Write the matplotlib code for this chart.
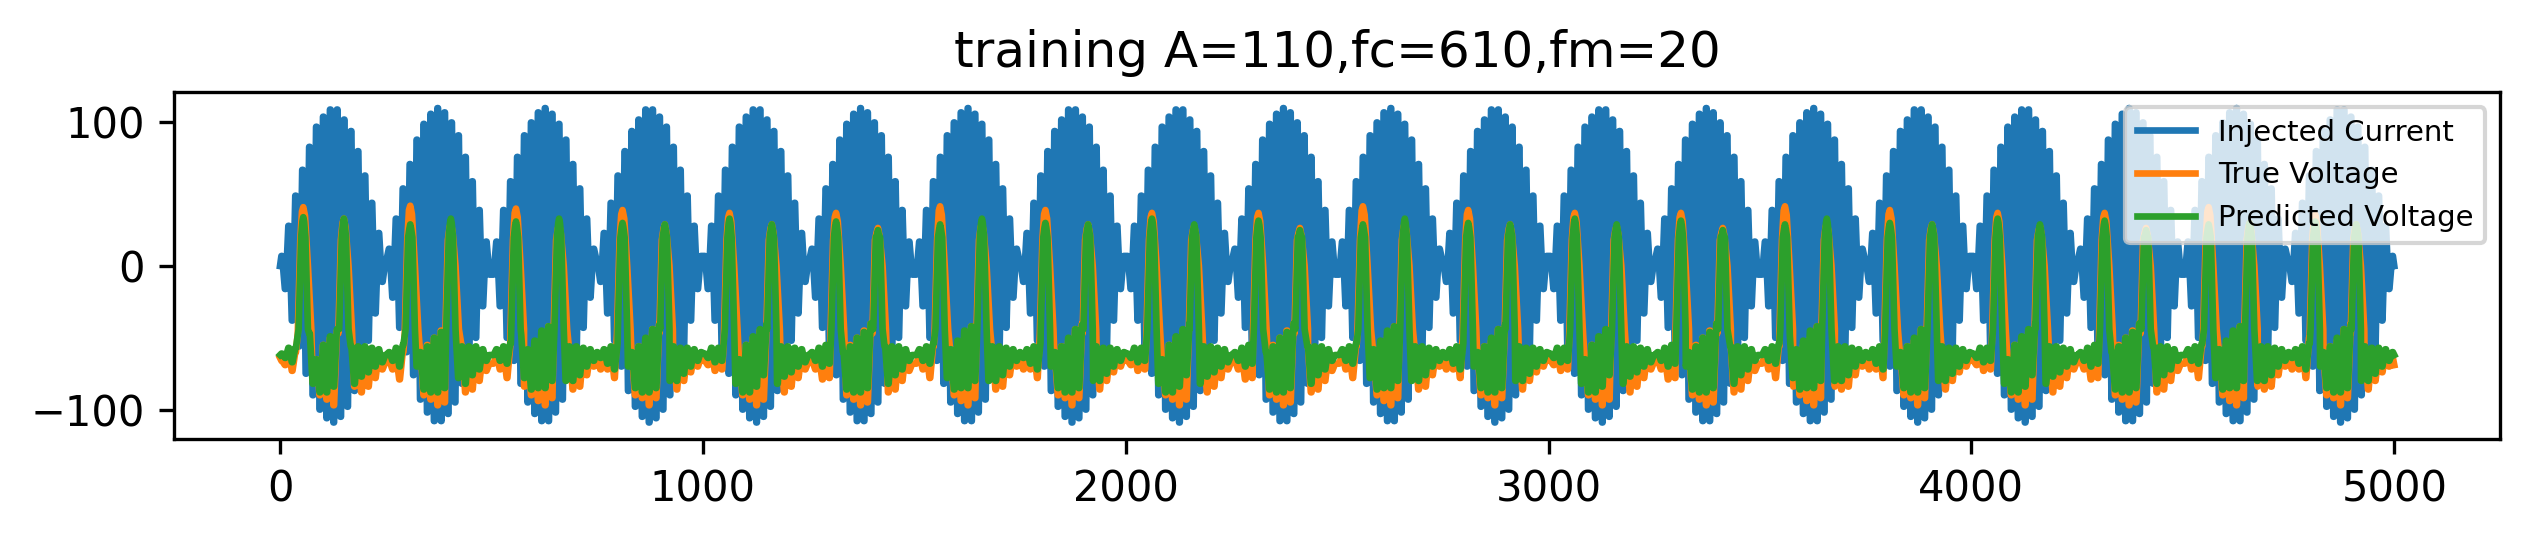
import numpy as np
import matplotlib
matplotlib.use("Agg")
import matplotlib.pyplot as plt

TITLE = "training A=110,fc=610,fm=20"
LABELS = ["Injected Current", "True Voltage", "Predicted Voltage"]

# Extremes, one per half carrier cycle, for one 1000-sample frame.
current_frame = [
    7, -16, 28, -38, 49, -56, 67, -75, 83, -90, 97, -100, 104, -106, 109, -109,
    109, -105, 102, -98, 94, -87, 80, -70, 63, -52, 44, -33, 23, -11, 3,
    12, -22, 33, -43, 54, -60, 71, -76, 88, -93, 99, -102, 106, -108, 110, -108,
    107, -103, 100, -95, 91, -82, 76, -66, 59, -50, 39, -28, 17, -6,
    -6, 17, -28, 39, -50, 59, -66, 76, -82, 91, -95, 100, -103, 107, -108, 110,
    -108, 106, -102, 99, -93, 88, -76, 71, -60, 54, -43, 33, -22, 12, 3,
    -11, 23, -33, 44, -52, 63, -70, 80, -87, 94, -98, 102, -105, 109, -109, 109,
    -106, 104, -100, 97, -90, 83, -75, 67, -56, 49, -38, 28, -16, 7,
]
true_frame = [
    -66, -69, -60, -73, -60, -72, -55, -60, -45, -80, -65, -90, -55, -93, -50, -97,
    -45, -93, -40, -40, -55, -84, -60, -88, -60, -84, -62, -78, -62, -72, -67,
    -66, -72, -64, -79, -60, -78, -50, -45, -78, -60, -90, -55, -93, -50, -97,
    -45, -95, -40, -40, -40, -82, -56, -88, -60, -86, -60, -80, -62, -73, -68,
    -68, -62, -72, -62, -78, -56, -55, -50, -50, -84, -60, -90, -55, -94, -50, -97,
    -42, -92, -38, -42, -44, -84, -58, -86, -60, -84, -62, -76, -62, -70, -65,
    -72, -62, -72, -60, -78, -50, -55, -46, -76, -62, -90, -56, -92, -52, -97,
    -44, -92, -40, -42, -45, -84, -58, -86, -60, -80, -62, -74, -62, -70, -64,
]
pred_frame = [
    -61, -64, -57, -67, -57, -66, -55, -62, -47, -82, -65, -88, -55, -88, -49, -84,
    -44, -76, -40, -42, -56, -82, -56, -77, -56, -74, -57, -70, -58, -67, -62,
    -60, -66, -57, -70, -55, -68, -52, -47, -70, -60, -86, -56, -88, -50, -88,
    -46, -85, -40, -45, -45, -78, -56, -82, -56, -76, -56, -72, -58, -66, -62,
    -62, -58, -66, -56, -68, -54, -54, -50, -48, -78, -58, -86, -52, -85, -45, -85,
    -42, -80, -40, -45, -46, -80, -56, -80, -56, -76, -57, -70, -58, -66, -60,
    -64, -58, -68, -56, -72, -54, -60, -48, -70, -60, -85, -56, -88, -50, -88,
    -44, -85, -41, -44, -46, -80, -56, -80, -57, -75, -57, -70, -58, -66, -60,
]

# Spike positions and crest heights, read one by one.
spike_at = [55, 151, 308, 404, 558, 660, 810, 910, 1063, 1163,
            1315, 1414, 1561, 1660, 1810, 1911, 2062, 2162, 2314, 2412,
            2561, 2660, 2810, 2909, 3062, 3161, 3313, 3412, 3559, 3658,
            3807, 3907, 4062, 4162, 4315, 4413, 4561, 4658, 4813, 4910]
true_peaks = [41, 33, 42, 30, 40, 29, 39, 29, 37, 29,
              37, 26.5, 41.6, 30, 39, 29, 37, 28, 37, 26.5,
              41.6, 30, 39, 29, 37, 28, 37, 26.5, 41.6, 30,
              39, 29, 37, 28, 37, 26.5, 41, 30, 36, 29]
pred_peaks = [34, 33, 29, 33, 31, 33, 30, 29, 33, 29,
              31, 25, 29, 33, 30, 29, 33, 29, 31.6, 25,
              29, 33, 30, 29, 33, 29, 31.6, 25, 29, 33,
              30, 29, 33, 29, 31.6, 25, 29, 30, 31, 29]

# Flanks of a spike: sample offsets and the levels seen on them.
true_offsets = [-13, -7, -3, 0, 4, 11, 19]
pred_offsets = [-11, -5, -2, 0, 2, 5, 11]
CREST_WIDTH = 0.8
LINE_WIDTH = 1.6
FRAME_LEN = 1000
N_FRAMES = 5
START_END = {"current": (0, 0), "true": (-64, -69), "pred": (-62, -62)}


def carrier_x():
    """Sample index of each listed half-cycle extreme."""
    half = FRAME_LEN / 122
    one = 4.1 + half * np.arange(122)
    return np.concatenate([one + FRAME_LEN * f for f in range(N_FRAMES)])


def body(frame, ends):
    centres = carrier_x()
    # each crest of the carrier is rounded, so it is held over a few samples
    crest_x = np.column_stack([centres - CREST_WIDTH, centres + CREST_WIDTH]).ravel()
    crest_y = np.repeat(np.tile(frame, N_FRAMES), 2)
    x = np.concatenate([[0], crest_x, [FRAME_LEN * N_FRAMES]])
    y = np.concatenate([[ends[0]], crest_y, [ends[1]]])
    return x, y


def with_spikes(frame, ends, peaks, offsets, flank):
    x, y = body(frame, ends)
    keep = np.ones(len(x), bool)
    sx, sy = [], []
    for at, peak in zip(spike_at, peaks):
        keep &= ~((x > at + offsets[0]) & (x < at + offsets[-1]))
        sx += [at + o for o in offsets]
        sy += flank(peak)
    x = np.concatenate([x[keep], sx])
    y = np.concatenate([y[keep], sy])
    order = np.argsort(x)
    return x[order], y[order]


cur_x, cur_y = body(current_frame, START_END["current"])
true_x, true_y = with_spikes(true_frame, START_END["true"], true_peaks, true_offsets,
                             lambda p: [-47, 18, p - 3, p, p - 6, 0, -44])
pred_x, pred_y = with_spikes(pred_frame, START_END["pred"], pred_peaks, pred_offsets,
                             lambda p: [-44, 20, p - 3, p, p - 3, 20, -44])

fig = plt.figure(figsize=(2528 / 300, 540 / 300), dpi=300)
ax = fig.add_axes([174.3 / 2528, (540 - 439) / 540, (2500 - 174.3) / 2528, (439 - 92.3) / 540])
ax.plot(cur_x, cur_y, lw=LINE_WIDTH, label=LABELS[0])
ax.plot(true_x, true_y, lw=LINE_WIDTH, label=LABELS[1])
ax.plot(pred_x, pred_y, lw=LINE_WIDTH, label=LABELS[2])
ax.set_xlim(-250, 5250)
ax.set_ylim(-120.5, 121)
ax.set_title(TITLE)
ax.legend(loc="upper right", fontsize=7)
fig.savefig("out.png", dpi=300)
